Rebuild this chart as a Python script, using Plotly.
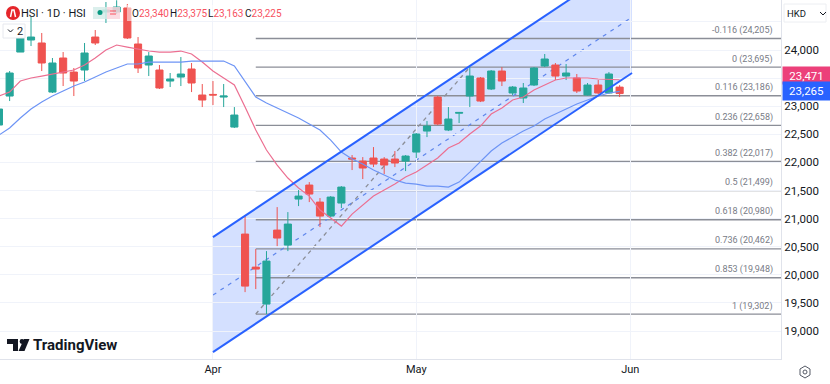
import plotly.graph_objects as go

bar_index = list(range(-20, 39))
opens = [22665,23181,23964,24178,24125,23252,23858,23608,23644,24231,24676,24676,24748,24107,23733,23644,23448,23519,23662,23199,23210,23163,22629,
         20725,20137,19479,20796,20529,21348,21597,21294,21045,21277,22078,22024,22078,22060,22060,22024,22184,22558,23163,22576,22875,23181,23502,23306,
         23626,23235,23146,23377,23715,23733,23537,23502,23199,23377,23235,23340]
highs = [23021,23626,24303,24587,24303,23858,23964,23680,24125,24356,24854,24885,24819,24231,23964,23733,23591,23875,23769,23395,23448,23395,22985,
         21063,20458,20422,21205,21116,21508,21650,21366,21401,21579,22131,22095,22273,22095,22202,22131,22523,22736,23181,22985,22896,23695,23520,23644,
         23697,23359,23413,23697,23929,23769,23751,23573,23413,23466,23608,23375]
lows = [22612,23092,23964,24071,23626,23235,23359,23181,23448,24089,24481,24641,24196,23591,23537,23306,23341,23359,23252,22985,23021,22985,22612,
        19692,19746,19302,20511,20422,21223,21294,20849,21027,21188,21864,21704,21917,21793,21917,21846,22078,22451,22665,22558,22701,22985,23074,23288,
        23359,23199,23057,23359,23697,23466,23466,23235,23190,23217,23225,23163]
closes = [22950,23591,24214,24231,23769,23769,23591,23448,23947,24125,24712,24765,24214,23680,23893,23324,23484,23573,23413,23110,23199,23181,22843,
          19799,20102,20244,20654,20903,21401,21437,21045,21383,21561,22060,21900,21971,21953,21989,22113,22505,22647,22683,22772,22889,23537,23092,23626,
          23448,23341,23324,23680,23840,23537,23591,23270,23377,23235,23573,23225]
ma_fast = [23181,23252,23448,23502,23537,23573,23608,23644,23733,23858,24000,24089,24053,24018,23982,23964,23964,23982,23929,23786,23626,23502,23377,
           22985,22576,22220,21953,21722,21544,21401,21152,21010,20867,21081,21241,21401,21508,21615,21739,21828,21953,22078,22256,22345,22505,22647,22861,
           22968,23110,23163,23288,23377,23466,23502,23502,23502,23484,23484,23471]
ma_slow = [22487,22612,22790,22950,23074,23181,23270,23359,23430,23519,23608,23680,23751,23751,23786,23786,23786,23786,23804,23804,23804,23804,23715,
           23448,23163,23057,22968,22879,22790,22683,22576,22398,22184,22060,21971,21864,21775,21686,21633,21615,21579,21579,21561,21650,21828,22006,22202,
           22345,22451,22558,22647,22772,22861,22950,23039,23110,23181,23235,23265]

channel_x = [0, 39.16]
channel_upper = [20671, 25638]
channel_mid = [19639, 24587]
channel_lower = [18624, 23591]

fib_ratio = ["-0.116", "0", "0.116", "0.236", "0.382", "0.5", "0.618", "0.736", "0.853", "1"]
fib_price = [24205, 23695, 23186, 22658, 22017, 21499, 20980, 20462, 19948, 19302]
fib_start = 4
fib_anchor_x = [4, 24]
fib_anchor_y = [19302, 23695]

price_ticks = [19000, 19500, 20000, 20500, 21000, 21500, 22000, 22500, 23000, 23500, 24000, 24500]
price_tick_labels = ["19,000", "19,500", "20,000", "20,500", "21,000", "21,500", "22,000", "22,500", "23,000", "", "24,000", ""]
month_ticks = [0, 19, 39]
month_labels = ["Apr", "May", "Jun"]
ohlc_names = ["O", "H", "L", "C"]
ohlc_values = ["23,340", "23,375", "23,163", "23,225"]
ohlc_left = [132, 170, 208, 245]

PW, PH = 781, 359
FONT = "Roboto"
def px(x): return x / PW
def py(y): return 1 - y / PH

fig = go.Figure()
kw = dict(mode="lines", hoverinfo="skip", showlegend=False)
fig.add_trace(go.Candlestick(x=bar_index, open=opens, high=highs, low=lows, close=closes,
                             increasing=dict(line=dict(color="#26a69a", width=1), fillcolor="#26a69a"),
                             decreasing=dict(line=dict(color="#ef5350", width=1), fillcolor="#ef5350"),
                             whiskerwidth=0, hoverinfo="skip", showlegend=False))
fig.add_trace(go.Scatter(x=bar_index, y=ma_fast, line=dict(color="#ec6f91", width=1.2), **kw))
fig.add_trace(go.Scatter(x=bar_index, y=ma_slow, line=dict(color="#6d94f5", width=1.2), **kw))
for c in (channel_upper, channel_lower):
    fig.add_trace(go.Scatter(x=channel_x, y=c, line=dict(color="#2962ff", width=2), **kw))

ann = []
def label(x, y, text, size=12, color="#131722", anchor="left", **extra):
    ann.append(dict(xref="paper", yref="paper", x=px(x), y=py(y), text=text, showarrow=False,
                    xanchor=anchor, yanchor="middle", borderpad=0, borderwidth=0,
                    font=dict(family=FONT, size=size, color=color), **extra))

for r, p in zip(fib_ratio, fib_price):
    ann.append(dict(xref="paper", yref="y", x=px(775), y=p, yshift=8, showarrow=False, xanchor="right",
                    yanchor="middle", text=f"{r} ({p:,})", font=dict(family=FONT, size=9, color="#787b86")))

label(21, 13, "HSI · 1D · HSI", size=11)
for n, v, x in zip(ohlc_names, ohlc_values, ohlc_left):
    label(x, 13, f'{n}<span style="color:#f7525f">{v}</span>', size=10)
label(17, 31, "2", size=11)
label(33, 345, "<b>TradingView</b>", size=15)
label(787, 13, "HKD", size=9.5)

ann.append(dict(xref="paper", yref="paper", x=px(782), y=py(75.5), xanchor="left", yanchor="middle", showarrow=False,
                text="23,471", width=45, height=15, bgcolor="#ec407a", font=dict(family=FONT, size=11.5, color="white")))
ann.append(dict(xref="paper", yref="paper", x=px(782), y=py(91), xanchor="left", yanchor="middle", showarrow=False,
                text="23,265", width=45, height=16, bgcolor="#2962ff", font=dict(family=FONT, size=11.5, color="white")))

def rect(x0, y0, x1, y1, fill, line=None, op=1):
    return dict(type="rect", xref="paper", yref="paper", x0=px(x0), y0=py(y0), x1=px(x1), y1=py(y1), layer="above",
                fillcolor=fill, opacity=op, line=dict(color=line or "rgba(0,0,0,0)", width=1))
def path(pts, fill="rgba(0,0,0,0)", line=None, w=1, close=True):
    d = "M" + " L".join(f"{px(a):.5f},{py(b):.5f}" for a, b in pts) + (" Z" if close else "")
    return dict(type="path", xref="paper", yref="paper", path=d, layer="above", fillcolor=fill,
                line=dict(color=line or "rgba(0,0,0,0)", width=w))
def disc(cx, cy, r, fill, line=None):
    return dict(type="circle", xref="paper", yref="paper", x0=px(cx - r), x1=px(cx + r), y0=py(cy - r), y1=py(cy + r),
                layer="above", fillcolor=fill, line=dict(color=line or "rgba(0,0,0,0)", width=1))

# Drawn in data coordinates beneath the candles, because Plotly always stacks candlesticks below scatter traces.
below = [dict(type="path", xref="x", yref="y", layer="below", fillcolor="rgba(41,98,255,0.2)", line=dict(width=0),
              path=f"M{channel_x[0]},{channel_upper[0]} L{channel_x[1]},{channel_upper[1]} "
                   f"L{channel_x[1]},{channel_lower[1]} L{channel_x[0]},{channel_lower[0]} Z")]
for p in fib_price:
    below.append(dict(type="line", xref="x", yref="y", layer="below", x0=fib_start, x1=60, y0=p, y1=p,
                      line=dict(color="#8b8e97", width=1.3)))
below.append(dict(type="line", xref="x", yref="y", layer="below", x0=fib_anchor_x[0], x1=fib_anchor_x[1],
                  y0=fib_anchor_y[0], y1=fib_anchor_y[1], line=dict(color="#8b8e97", width=1.3, dash="4px,4px")))
below.append(dict(type="line", xref="x", yref="y", layer="below", x0=channel_x[0], x1=channel_x[1],
                  y0=channel_mid[0], y1=channel_mid[1], line=dict(color="#5f86ec", width=1.2, dash="4px,5px")))

shapes = below + [
    rect(127, 5, 282, 21, "white", op=0.55),
    rect(93, 7, 107, 19, "#d5ede9", op=0.85),
    rect(107, 7, 120, 19, "#fbd5dd", op=0.85),
    disc(100, 12.5, 2.5, "#089981"),
    path([(110, 11), (116, 11)], line="#f7525f", w=1, close=False),
    path([(110, 14), (116, 14)], line="#f7525f", w=1, close=False),
    disc(13, 13, 7, "#e5262b"),
    path([(10.5, 17), (12, 10), (14, 10), (15.5, 17)], line="white", w=1.5, close=False),
    rect(3, 24, 25, 38, "white", line="#e6e8ee"),
    path([(8, 29.5), (10.5, 32), (13, 29.5)], line="#131722", w=1, close=False),
    rect(784, 4, 826, 22, "white", line="#eceef2"),
    path([(820, 12), (823, 15), (826, 12)], line="#131722", w=1, close=False),
    path([(7, 339), (18, 339), (18, 351), (13, 351), (13, 344), (7, 344)], fill="#131722"),
    disc(22, 341.5, 2.4, "#131722"),
    path([(18.5, 351), (24, 339), (29.5, 339), (24.5, 351)], fill="#131722"),
    path([(805, 366), (810, 369), (810, 375), (805, 378), (800, 375), (800, 369)], line="#555a66", w=1),
    disc(805, 372, 2, "white", line="#555a66"),
]

fig.update_layout(
    width=830, height=384, margin=dict(l=0, r=49, t=0, b=25), paper_bgcolor="white", plot_bgcolor="white",
    showlegend=False, annotations=ann, shapes=shapes, font=dict(family=FONT, color="#131722"), boxgap=0.05,
    xaxis=dict(range=[-19.9, 53.08], rangeslider=dict(visible=False), tickvals=month_ticks, ticktext=month_labels,
               showgrid=True, gridcolor="#f0f3fa", gridwidth=1, zeroline=False, showline=True, linecolor="#e0e3eb",
               ticks="", tickfont=dict(size=11, family=FONT, color="#131722")),
    yaxis=dict(range=[18502, 24890], side="right", tickvals=price_ticks, ticktext=price_tick_labels, showgrid=True,
               gridcolor="#f0f3fa", gridwidth=1, zeroline=False, showline=True, linecolor="#e0e3eb", ticks="",
               tickfont=dict(size=11.5, family=FONT, color="#131722")),
)
fig.write_html("out.html", config=dict(displayModeBar=False),
               post_script="document.body.style.margin='0';document.body.style.overflow='hidden';")
